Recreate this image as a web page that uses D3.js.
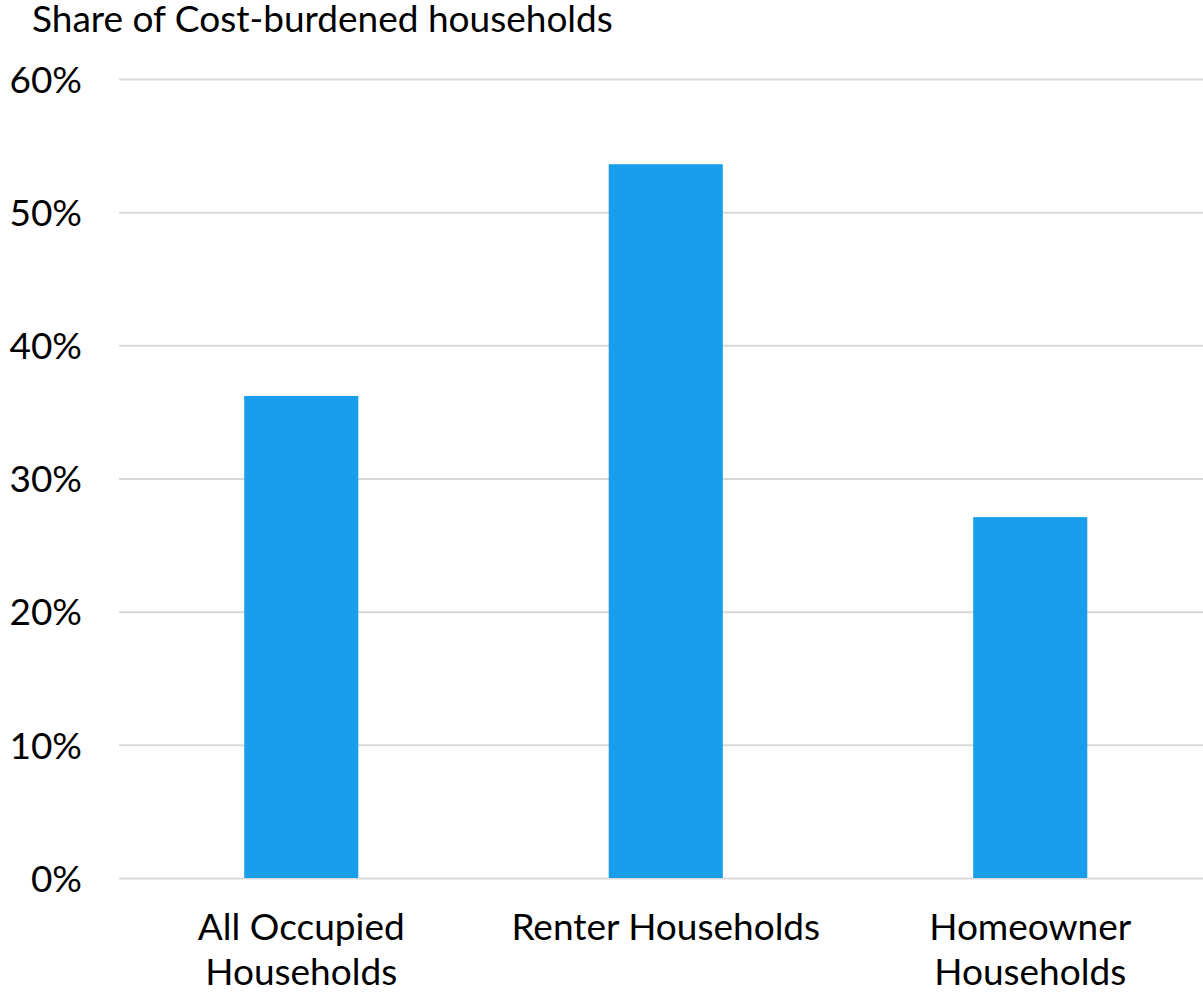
<!DOCTYPE html>
<html><head><meta charset="utf-8">
<script src="https://cdn.jsdelivr.net/npm/d3@7"></script>
<style>body{margin:0;background:#fff;} text{font-family:Lato, sans-serif;fill:#000;}</style>
</head><body>
<svg id="c" width="1203" height="994"></svg>
<script>
const categories = [["All Occupied","Households"],["Renter Households"],["Homeowner","Households"]];
const values = [0.362, 0.536, 0.271];
const ticks = [0,0.1,0.2,0.3,0.4,0.5,0.6];
const title = "Share of Cost-burdened households";

const svg = d3.select("#c");
const m = {left:119, right:1212.5, top:79, bottom:878};
const x = d3.scaleBand().domain(d3.range(categories.length)).range([m.left, m.right]).paddingInner(0.687).paddingOuter(0.3435);
const y = d3.scaleLinear().domain([0,0.6]).range([m.bottom, m.top]);

svg.append("text").attr("x",32).attr("y",32).attr("font-size",37).text(title);

const yAxis = svg.append("g").attr("transform",`translate(${m.left},0)`)
  .call(d3.axisLeft(y).tickValues(ticks).tickFormat(d3.format(".0%")).tickSize(-(m.right-m.left)).tickPadding(37));
yAxis.select(".domain").remove();
yAxis.selectAll(".tick line").attr("stroke","#d9d9d9").attr("stroke-width",2);
yAxis.selectAll(".tick text").attr("font-size",37).attr("fill","#000").attr("font-family","Lato").attr("text-anchor","end").attr("x",-37).attr("dy","0.36em");

svg.append("g").selectAll("rect").data(values).join("rect")
  .attr("x",(d,i)=>x(i)).attr("width",x.bandwidth())
  .attr("y",d=>y(d)).attr("height",d=>y(0)-y(d)).attr("fill","#189eea");

const lab = svg.append("g").selectAll("text").data(categories).join("text")
  .attr("font-size",37).attr("text-anchor","middle")
  .attr("x",(d,i)=>x(i)+x.bandwidth()/2).attr("y",940);
lab.selectAll("tspan").data(d=>d).join("tspan")
  .attr("x",function(){return this.parentNode.getAttribute("x");})
  .attr("dy",(d,i)=>i===0?0:45).text(d=>d);
</script>
</body></html>
